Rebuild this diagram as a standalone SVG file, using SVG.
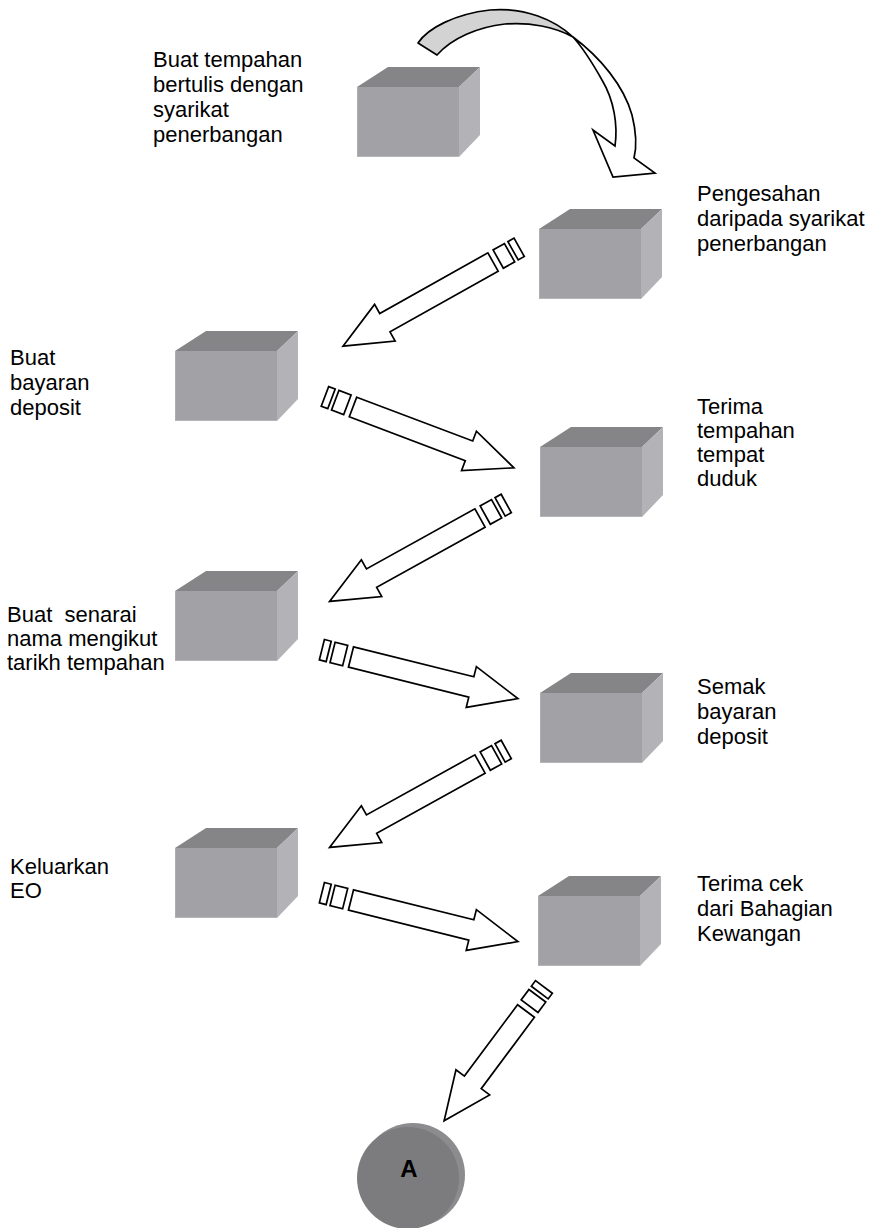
<svg xmlns="http://www.w3.org/2000/svg" xmlns:xlink="http://www.w3.org/1999/xlink" width="878" height="1228" viewBox="0 0 878 1228">
<style>
.lbl{font-family:"Liberation Sans",Arial,sans-serif;font-size:22px;fill:#000;white-space:pre}
.blk{fill:#fff;stroke:#000;stroke-width:1.7;stroke-linejoin:miter}
.top{fill:#858587}
.side{fill:#b3b2b7}
.front{fill:#a2a1a5}
</style>
<defs>
<g id="cube">
<polygon class="top" points="0,0 31,-20 123,-20 102,0"/>
<polygon class="side" points="102,0 123,-20 123,48 102,70"/>
<rect class="front" x="0" y="0" width="102" height="70"/>
<line x1="0.5" y1="0" x2="0.5" y2="70" stroke="#adacb0" stroke-width="1"/>
<line x1="0" y1="69.5" x2="102" y2="69.5" stroke="#b6b5b9" stroke-width="1"/>
</g>
<g id="arrowL">
<polygon class="blk" points="0,-10.5 124,-10.5 124,-21 172,0 124,21 124,10.5 0,10.5"/>
<rect class="blk" x="-19" y="-10.5" width="13" height="21"/>
<rect class="blk" x="-30" y="-10.5" width="7" height="21"/>
</g>
<g id="arrowS">
<polygon class="blk" points="0,-10.5 89,-10.5 89,-21 137,0 89,21 89,10.5 0,10.5"/>
<rect class="blk" x="-19" y="-10.5" width="13" height="21"/>
<rect class="blk" x="-30" y="-10.5" width="7" height="21"/>
</g>
</defs>
<rect width="878" height="1228" fill="#fff"/>

<g id="connectors">
<g id="curved-arrow">
<path d="M418,43 C428,28 455,14 490,10 C525,7 555,20 573,37 C555,27 530,22 505,24 C478,27 452,38 437,55 Z" fill="#d3d3d3" stroke="#000" stroke-width="1.7" stroke-linejoin="round"/>
<path d="M573,37 C600,57 624,86 632,115 C637,135 636,150 634,158 L655,173 L613,177 L593,130 L615,146 C618,125 614,100 602,80 C593,64 583,48 573,37 Z" fill="#fff" stroke="#000" stroke-width="1.7" stroke-linejoin="miter"/>
</g>
<use href="#arrowL" transform="translate(493,262) rotate(150.7)"/>
<use href="#arrowL" transform="translate(353,407) rotate(20.7)"/>
<use href="#arrowL" transform="translate(480,518) rotate(151)"/>
<use href="#arrowL" transform="translate(351,657) rotate(14)"/>
<use href="#arrowL" transform="translate(480,764) rotate(151)"/>
<use href="#arrowL" transform="translate(351,900) rotate(14)"/>
<use href="#arrowS" transform="translate(526,1011) rotate(126.7)"/>
</g>

<g id="node1">
<use href="#cube" x="357" y="87"/>
<text class="lbl" x="153" y="67">Buat tempahan</text>
<text class="lbl" x="153" y="92">bertulis dengan</text>
<text class="lbl" x="153" y="117">syarikat</text>
<text class="lbl" x="153" y="142">penerbangan</text>
</g>
<g id="node2">
<use href="#cube" x="539" y="229"/>
<text class="lbl" x="697" y="201">Pengesahan</text>
<text class="lbl" x="697" y="226">daripada syarikat</text>
<text class="lbl" x="697" y="251">penerbangan</text>
</g>
<g id="node3">
<use href="#cube" x="175" y="351"/>
<text class="lbl" x="10" y="365">Buat</text>
<text class="lbl" x="10" y="390">bayaran</text>
<text class="lbl" x="10" y="415">deposit</text>
</g>
<g id="node4">
<use href="#cube" x="540" y="447"/>
<text class="lbl" x="697" y="414">Terima</text>
<text class="lbl" x="697" y="438">tempahan</text>
<text class="lbl" x="697" y="462">tempat</text>
<text class="lbl" x="697" y="486">duduk</text>
</g>
<g id="node5">
<use href="#cube" x="175" y="591"/>
<text class="lbl" x="7" y="622">Buat  senarai</text>
<text class="lbl" x="7" y="646">nama mengikut</text>
<text class="lbl" x="7" y="670">tarikh tempahan</text>
</g>
<g id="node6">
<use href="#cube" x="540" y="693"/>
<text class="lbl" x="697" y="694">Semak</text>
<text class="lbl" x="697" y="719">bayaran</text>
<text class="lbl" x="697" y="744">deposit</text>
</g>
<g id="node7">
<use href="#cube" x="175" y="848"/>
<text class="lbl" x="10" y="874">Keluarkan</text>
<text class="lbl" x="10" y="898">EO</text>
</g>
<g id="node8">
<use href="#cube" x="538" y="896"/>
<text class="lbl" x="697" y="891">Terima cek</text>
<text class="lbl" x="697" y="916">dari Bahagian</text>
<text class="lbl" x="697" y="941">Kewangan</text>
</g>
<g id="nodeA">
<circle cx="413" cy="1175" r="52" fill="#8c8c8e"/>
<circle cx="408" cy="1178" r="51" fill="#7c7c7e"/>
<text x="409" y="1177" text-anchor="middle" style="font-family:'Liberation Sans',Arial,sans-serif;font-size:24px;font-weight:bold" fill="#000">A</text>
</g>
</svg>
